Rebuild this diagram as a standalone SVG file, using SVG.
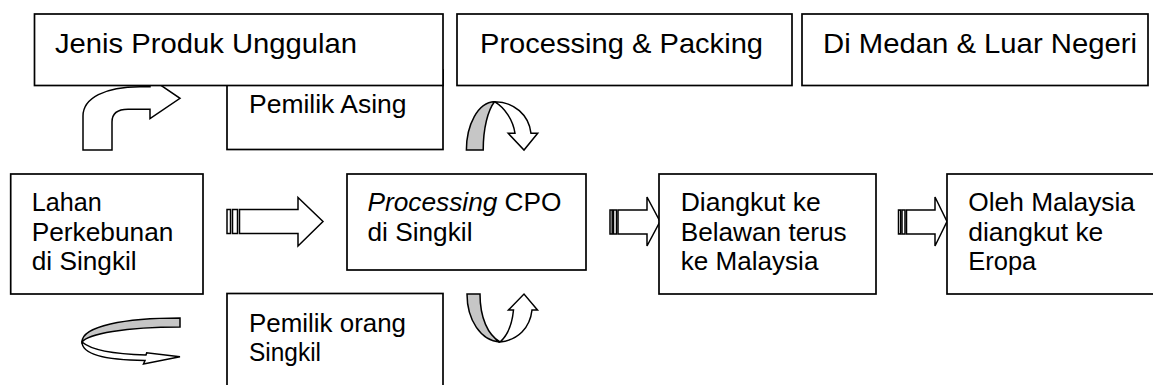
<svg xmlns="http://www.w3.org/2000/svg" width="1153" height="385" viewBox="0 0 1153 385">
<style>
.box{fill:#fff;stroke:#000;stroke-width:1.7}
.t{font-family:"Liberation Sans",Arial,sans-serif;font-size:26px;fill:#000}
.h{font-size:27.5px}
.arr{fill:#fff;stroke:#000;stroke-width:1.5;stroke-linejoin:miter}
.grey{fill:#c6c6c6;stroke:#000;stroke-width:1.5}
</style>
<rect width="1153" height="385" fill="#fff"/>
<g id="connectors">
  <path class="arr" d="M83,150 L83,116 C83,98 105,86.7 140,86.7 L150,86.7 L150,78 L180,98.3 L150,118.5 L150,109.3 L128,109.3 C118,109.3 112,113 112,122 L112,150 Z"/>
  <path class="grey" d="M466.4,150 C466.4,125 478,102 494.5,101.7 C488,110 483.2,128 483.2,150 Z"/>
  <path class="arr" d="M494.5,101.7 C514,101.7 529,115 531,133.3 L537.7,133.3 L524,150 L508.2,133.3 L515,133.3 C513,120 505,108 494.5,101.7 Z"/>
  <path class="grey" d="M467,294 L480,294 C480,318 488,335 500,342 C481,341 467,320 467,294 Z"/>
  <path class="arr" d="M500,342 C518,340 530,328 532,310 L537.5,310 L524,294 L508.5,310 L513.5,310 C512,325 507,336 500,342 Z"/>
  <path class="grey" d="M180,318 C125,318 82,326 82,342 C88,334 125,327 180,327 Z"/>
  <path class="arr" d="M82,342 C82,354 105,360 145,360.5 L143.5,364 L180,356.7 L146.7,352.7 L146,355 C110,354 90,349 82,342 Z"/>
  <rect class="arr" x="227" y="209.5" width="3.5" height="24"/>
  <rect class="arr" x="232.5" y="209.5" width="5" height="24"/>
  <path class="arr" d="M239.5,209.5 L298,209.5 L298,197.5 L323,221.5 L298,246 L298,233.5 L239.5,233.5 Z"/>
  <rect class="arr" x="610" y="210" width="2.2" height="24"/>
  <rect class="arr" x="613.5" y="210" width="3" height="24"/>
  <path class="arr" d="M618,210 L647,210 L647,197 L660,221.5 L647,246 L647,234 L618,234 Z"/>
  <rect class="arr" x="898.5" y="210" width="2.2" height="24"/>
  <rect class="arr" x="902" y="210" width="3" height="24"/>
  <path class="arr" d="M906.5,210 L935,210 L935,197 L947,221.5 L935,246 L935,234 L906.5,234 Z"/>
</g>
<g id="pemilik-asing">
  <rect class="box" x="227" y="70" width="216" height="79.5"/>
  <text class="t" x="249" y="113.3" textLength="157.5" lengthAdjust="spacingAndGlyphs">Pemilik Asing</text>
</g>
<g id="jenis-produk">
  <rect class="box" x="34.5" y="14" width="408.5" height="71.5"/>
  <text class="t h" x="55" y="52.7" textLength="302" lengthAdjust="spacingAndGlyphs">Jenis Produk Unggulan</text>
</g>
<g id="processing-packing">
  <rect class="box" x="457" y="14" width="335" height="71.5"/>
  <text class="t h" x="480" y="52.5" textLength="283" lengthAdjust="spacingAndGlyphs">Processing &amp; Packing</text>
</g>
<g id="di-medan">
  <rect class="box" x="802" y="14" width="346" height="71.5"/>
  <text class="t h" x="823" y="52.5" textLength="314" lengthAdjust="spacingAndGlyphs">Di Medan &amp; Luar Negeri</text>
</g>
<g id="lahan">
  <rect class="box" x="10.7" y="174" width="192.3" height="120"/>
  <text class="t" x="31.7" y="211" textLength="70" lengthAdjust="spacingAndGlyphs">Lahan</text>
  <text class="t" x="31.7" y="240.7" textLength="141.7" lengthAdjust="spacingAndGlyphs">Perkebunan</text>
  <text class="t" x="31.7" y="270.3" textLength="105" lengthAdjust="spacingAndGlyphs">di Singkil</text>
</g>
<g id="processing-cpo">
  <rect class="box" x="347" y="174" width="239" height="96"/>
  <text class="t" x="367.5" y="210.7" textLength="194" lengthAdjust="spacingAndGlyphs"><tspan font-style="italic">Processing</tspan> CPO</text>
  <text class="t" x="367.5" y="240.5" textLength="105" lengthAdjust="spacingAndGlyphs">di Singkil</text>
</g>
<g id="pemilik-orang">
  <rect class="box" x="227" y="293.5" width="216" height="100"/>
  <text class="t" x="249" y="331.7" textLength="157" lengthAdjust="spacingAndGlyphs">Pemilik orang</text>
  <text class="t" x="249" y="361" textLength="72" lengthAdjust="spacingAndGlyphs">Singkil</text>
</g>
<g id="diangkut">
  <rect class="box" x="659" y="174" width="217" height="120"/>
  <text class="t" x="680.7" y="210.7" textLength="140" lengthAdjust="spacingAndGlyphs">Diangkut ke</text>
  <text class="t" x="680.7" y="240.5" textLength="166" lengthAdjust="spacingAndGlyphs">Belawan terus</text>
  <text class="t" x="680.7" y="270.3" textLength="137.7" lengthAdjust="spacingAndGlyphs">ke Malaysia</text>
</g>
<g id="oleh-malaysia">
  <rect class="box" x="947" y="174" width="215" height="120"/>
  <text class="t" x="968.3" y="210.7" textLength="166.7" lengthAdjust="spacingAndGlyphs">Oleh Malaysia</text>
  <text class="t" x="968.3" y="240.5" textLength="135" lengthAdjust="spacingAndGlyphs">diangkut ke</text>
  <text class="t" x="968.3" y="270.3" textLength="68" lengthAdjust="spacingAndGlyphs">Eropa</text>
</g>
</svg>
